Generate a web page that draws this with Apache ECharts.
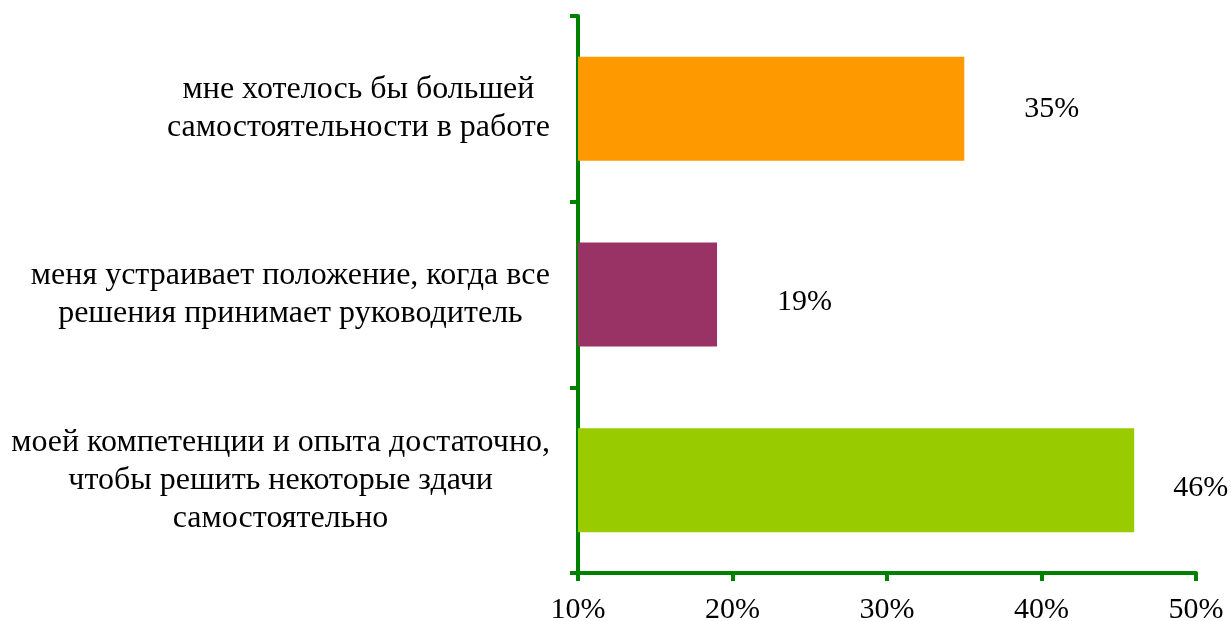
<!DOCTYPE html>
<html>
<head>
<meta charset="utf-8">
<script src="https://cdn.jsdelivr.net/npm/echarts@6/dist/echarts.min.js"></script>
<style>
  html, body { margin: 0; padding: 0; background: #fff; }
  #chart { width: 1231px; height: 621px; }
</style>
</head>
<body>
<div id="chart"></div>
<script>
// Survey answers (top to bottom) and their shares, %
const categories = [
  'мне хотелось бы большей\nсамостоятельности в работе',
  'меня устраивает положение, когда все\nрешения принимает руководитель',
  'моей компетенции и опыта достаточно,\nчтобы решить некоторые здачи\nсамостоятельно'
];
const values = [35, 19, 46];
const barColors = ['#FF9900', '#993366', '#99CC00'];
const axisMin = 10;
const axisMax = 50;
const axisStep = 10;

const FONT = '"Liberation Serif", "Times New Roman", serif';
const AXIS_GREEN = '#008000';

// per-bar label placement (distance from bar end, vertical nudge)
const labelDistance = [60, 60, 39];
const labelNudge = [0, 8, 8];

const chart = echarts.init(document.getElementById('chart'), null, { renderer: 'canvas' });

chart.setOption({
  animation: false,
  backgroundColor: '#ffffff',
  grid: {
    left: 578, right: 35, top: 16, bottom: 48,
    containLabel: false,
    outerBoundsMode: 'none'
  },
  xAxis: {
    type: 'value',
    min: axisMin,
    max: axisMax,
    interval: axisStep,
    axisLine: { show: true, lineStyle: { color: AXIS_GREEN, width: 4 } },
    axisTick: { show: true, inside: false, length: 8, lineStyle: { color: AXIS_GREEN, width: 4 } },
    splitLine: { show: false },
    axisLabel: {
      formatter: '{value}%',
      fontFamily: FONT,
      fontSize: 30,
      color: '#000',
      margin: 22
    }
  },
  yAxis: {
    type: 'category',
    inverse: true,
    data: categories,
    axisLine: { show: true, lineStyle: { color: AXIS_GREEN, width: 4 } },
    axisTick: { show: true, inside: false, length: 8, lineStyle: { color: AXIS_GREEN, width: 4 } },
    axisLabel: {
      margin: 28,
      align: 'right',
      formatter: v => v.split('\n').map(s => '{c|' + s + '}').join('\n'),
      rich: {
        c: {
          align: 'center',
          fontFamily: FONT,
          fontSize: 32,
          lineHeight: 38,
          color: '#000'
        }
      }
    }
  },
  series: [{
    type: 'bar',
    barWidth: 104,
    data: values.map((v, i) => ({
      value: v,
      itemStyle: { color: barColors[i] },
      label: {
        show: true,
        position: 'right',
        distance: labelDistance[i],
        offset: [0, labelNudge[i]],
        formatter: '{c}%',
        fontFamily: FONT,
        fontSize: 30,
        color: '#000'
      }
    }))
  }]
});
</script>
</body>
</html>
